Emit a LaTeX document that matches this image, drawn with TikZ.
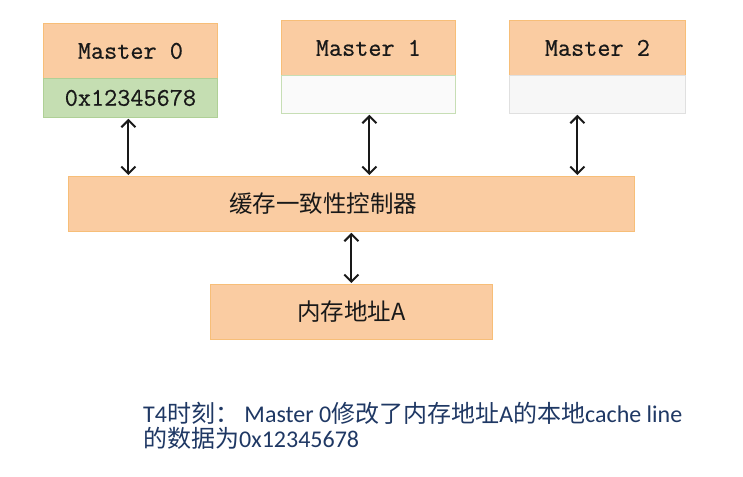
\documentclass[tikz,border=0pt]{standalone}
\usepackage{fontspec}
\usetikzlibrary{arrows.meta}
\setmainfont{Carlito}
\newfontfamily\cjkfont{Noto Sans CJK SC}
\newfontfamily\monofnt[FakeBold=0.6]{Latin Modern Mono}
\newfontfamily\capfont{Carlito}
\newcommand{\zh}[1]{{\cjkfont #1}}
\definecolor{peach}{RGB}{250,204,162}
\definecolor{peachline}{RGB}{247,190,120}
\definecolor{greenfill}{RGB}{197,222,178}
\definecolor{greenline}{RGB}{175,208,150}
\definecolor{paleA}{RGB}{250,250,250}
\definecolor{paleB}{RGB}{247,247,247}
\definecolor{capblue}{RGB}{31,56,100}
\tikzset{
  box/.style={draw=peachline, fill=peach, line width=0.8pt, inner sep=0pt, anchor=north west, text=black!90},
  lowbox/.style={box, draw=greenline, fill=greenfill},
  mono/.style={font=\monofnt\fontsize{25.5}{28}\selectfont},
  conn/.style={line width=2pt, black!90, {Straight Barb[length=7pt,width=14pt]}-{Straight Barb[length=7pt,width=14pt]}, shorten <=1pt, shorten >=1pt}
}
\begin{document}
\begin{tikzpicture}[x=1pt,y=-1pt]
\useasboundingbox[fill=white] (0,0) rectangle (743,476);
% Masters
\node[box, mono, minimum width=174pt, minimum height=55pt] (m0) at (43,23) {Master 0};
\node[lowbox, mono, minimum width=174pt, minimum height=39pt] (m0d) at (43,78) {0x12345678};
\node[box, mono, minimum width=174pt, minimum height=55pt] (m1) at (281,20) {Master 1};
\node[lowbox, fill=paleA, draw=greenline!70, minimum width=174pt, minimum height=38pt] (m1d) at (281,75) {};
\node[box, mono, minimum width=176pt, minimum height=55pt] (m2) at (509,20) {Master 2};
\node[lowbox, fill=paleB, draw=black!12, minimum width=176pt, minimum height=38pt] (m2d) at (509,75) {};
% Controller
\node[box, minimum width=566pt, minimum height=55pt] (ctrl) at (68,176) {};
\node[font=\cjkfont\fontsize{23.5}{26}\selectfont, text=black!90, inner sep=0pt] (ctrlt) at ([xshift=-28pt]ctrl.center) {缓存一致性控制器};
% Memory
\node[box, minimum width=282pt, minimum height=55pt, font=\cjkfont\fontsize{23.5}{26}\selectfont] (mem) at (210,284) {内存地址A};
% connectors
\draw[conn] ([xshift=-2pt]m0d.south) -- ([xshift=-2pt]m0d.south |- ctrl.north);
\draw[conn] ([xshift=1pt]m1d.south) -- ([xshift=1pt]m1d.south |- ctrl.north);
\draw[conn] ([xshift=-20pt]m2d.south) -- ([xshift=-20pt]m2d.south |- ctrl.north);
\draw[conn] (ctrl.south -| mem.north) -- (mem.north);
% caption
\node[anchor=base west, align=left, inner sep=0pt, text=capblue, font=\capfont\fontsize{24}{25}\selectfont] (cap) at (143,447)
  {T4\zh{时刻：} Master 0\zh{修改了内存地址}A\zh{的本地}cache line\\ \zh{的数据为}0x12345678};
\end{tikzpicture}
\end{document}
